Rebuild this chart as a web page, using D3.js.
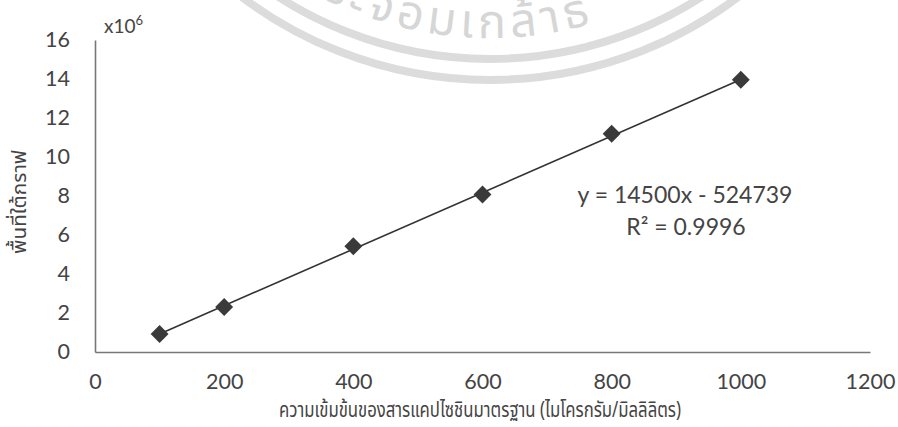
<!DOCTYPE html>
<html>
<head>
<meta charset="utf-8">
<script src="https://cdn.jsdelivr.net/npm/d3@7"></script>
<style>
  body { margin: 0; background: #fff; }
  #plot { width: 898px; height: 427px; }
  text { font-family: Lato, "Open Sans", sans-serif; }
  .thai { font-family: "Noto Sans Thai", "Noto Sans", sans-serif; }
</style>
</head>
<body>
<div id="plot"></div>
<script>
// data (y in units of 10^6)
var concentration = [100, 200, 400, 600, 800, 1000];
var area = [0.92, 2.31, 5.42, 8.08, 11.19, 13.96];
var xTicks = [0, 200, 400, 600, 800, 1000, 1200];
var yTicks = [0, 2, 4, 6, 8, 10, 12, 14, 16];
var trendSlope = 14500, trendIntercept = -524739;
var trendLabel = "y = 14500x - 524739";
var r2Label = "R² = 0.9996";
var xTitle = "ความเข้มข้นของสารแคปไซชินมาตรฐาน (ไมโครกรัม/มิลลิลิตร)";
var yTitle = "พื้นที่ใต้กราฟ";

var margin = {t:40, r:28, b:75, l:95};
var W = 898, H = 427;
var width = W - margin.l - margin.r,
    height = H - margin.t - margin.b;

var svg = d3.select('#plot')
    .append('svg')
    .attr('width', W)
    .attr('height', H);

// faint watermark seal at the top (scan background)
var wmR = 370, wmFont = '47px';
var wm = svg.append('g').attr('transform', 'translate(490,-332)');
wm.append('circle').attr('r', 412)
    .style('fill', 'none').style('stroke', '#dcdcdc').style('stroke-width', 8);
wm.append('circle').attr('r', 391)
    .style('fill', 'none').style('stroke', '#dcdcdc').style('stroke-width', 8);
wm.append('path').attr('id', 'wmArc')
    .attr('d', 'M' + (-wmR) + ',0 A' + wmR + ',' + wmR + ' 0 0,0 ' + wmR + ',0')
    .style('fill', 'none');

function measure(str){
    var t = svg.append('text').attr('class', 'thai')
        .style('font-size', wmFont).style('letter-spacing', '5px').text(str);
    var w = t.node().getComputedTextLength();
    t.remove();
    return w;
}
var wmPre = 'ระ', wmMain = 'จอมเกล้า', wmPost = 'ธ';
// put the middle of the main word at x = -25 from the seal centre
var sCenter = wmR * Math.acos(25 / wmR);
wm.append('text').attr('class', 'thai')
    .style('font-size', wmFont).style('letter-spacing', '5px').style('fill', '#d6d6d6')
  .append('textPath')
    .attr('href', '#wmArc')
    .attr('startOffset', sCenter - measure(wmPre) - measure(wmMain) / 2)
    .text(wmPre + wmMain + wmPost);

var plot = svg.append('g')
    .attr('transform', 'translate(' + margin.l + ',' + margin.t + ')');

var x = d3.scaleLinear().domain([0, 1200]).range([0, width]);
var y = d3.scaleLinear().domain([0, 16]).range([height, 0]);

var xAxis = plot.append('g')
    .attr('transform', 'translate(0,' + height + ')')
    .call(d3.axisBottom(x).tickValues(xTicks).tickSize(0).tickPadding(22).tickFormat(d3.format('d')));
var yAxis = plot.append('g')
    .call(d3.axisLeft(y).tickValues(yTicks).tickSize(0).tickPadding(25).tickFormat(d3.format('d')));

[xAxis, yAxis].forEach(function(a){
    a.select('.domain').style('stroke', '#777').style('stroke-width', 1.6);
    a.selectAll('text').style('font-size', '21.5px').style('fill', '#444')
        .style('font-family', 'Lato, "Open Sans", sans-serif');
});

// x10^6 multiplier
var mult = svg.append('text')
    .attr('x', 104).attr('y', 33)
    .style('font-size', '19px').style('fill', '#444');
mult.append('tspan').text('x10');
mult.append('tspan').attr('dy', -8).style('font-size', '13px').text('6');

// trendline over the data range
var trend = d3.extent(concentration).map(function(c){
    return [c, (trendSlope * c + trendIntercept) / 1e6];
});
plot.append('path')
    .datum(trend)
    .attr('d', d3.line().x(function(d){ return x(d[0]); }).y(function(d){ return y(d[1]); }))
    .style('fill', 'none').style('stroke', '#333').style('stroke-width', 1.6);

// diamond markers
plot.selectAll('.pt')
    .data(concentration)
    .enter().append('path')
    .attr('class', 'pt')
    .attr('transform', function(d, i){ return 'translate(' + x(d) + ',' + y(area[i]) + ') rotate(45)'; })
    .attr('d', d3.symbol().type(d3.symbolSquare).size(160))
    .style('fill', '#3a3a3a');

// equation label
svg.append('text')
    .attr('x', 685).attr('y', 203)
    .attr('text-anchor', 'middle')
    .style('font-size', '23px').style('fill', '#444')
    .text(trendLabel);
svg.append('text')
    .attr('x', 686).attr('y', 235)
    .attr('text-anchor', 'middle')
    .style('font-size', '23px').style('fill', '#444')
    .text(r2Label);

// axis titles
svg.append('text').attr('class', 'thai')
    .attr('x', 480).attr('y', 417)
    .attr('text-anchor', 'middle')
    .attr('textLength', 402).attr('lengthAdjust', 'spacingAndGlyphs')
    .style('font-size', '21px').style('fill', '#444')
    .text(xTitle);
svg.append('text').attr('class', 'thai')
    .attr('transform', 'translate(26,' + 202 + ') rotate(-90)')
    .attr('text-anchor', 'middle')
    .attr('textLength', 104).attr('lengthAdjust', 'spacingAndGlyphs')
    .style('font-size', '20px').style('fill', '#444')
    .text(yTitle);
</script>
</body>
</html>
